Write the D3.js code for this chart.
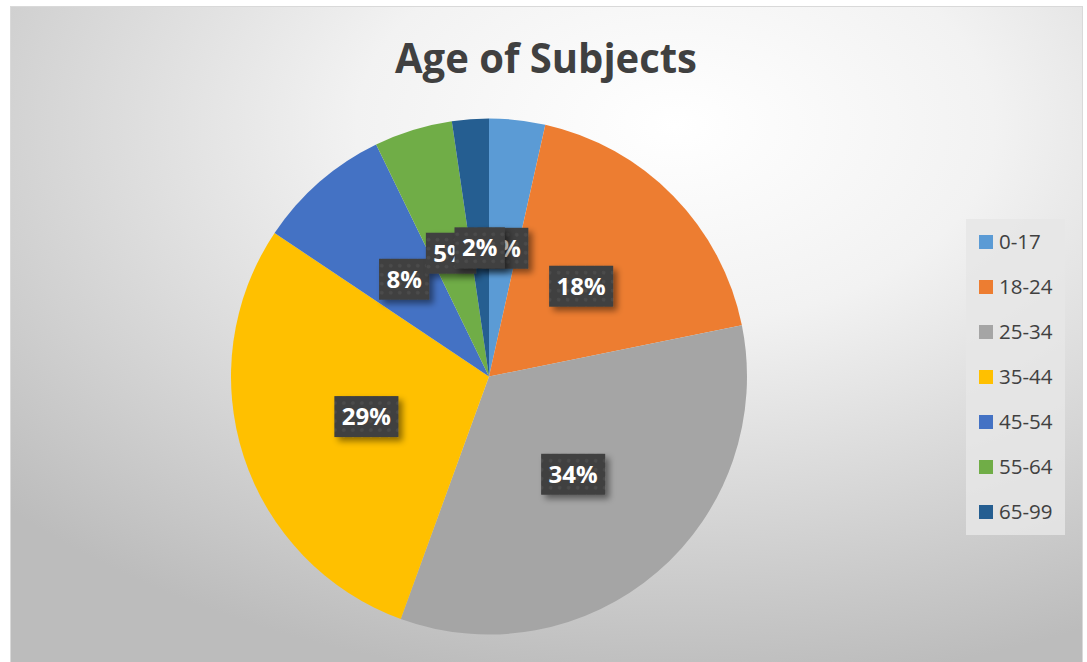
<!DOCTYPE html>
<html>
<head>
<meta charset="utf-8">
<script src="https://cdn.jsdelivr.net/npm/d3@7"></script>
<style>
  html, body { margin: 0; padding: 0; background: #ffffff; }
  svg { display: block; }
</style>
</head>
<body>
<svg width="1087" height="662"></svg>
<script>
// Données du graphique
const categories = ["0-17", "18-24", "25-34", "35-44", "45-54", "55-64", "65-99"];
const values = [3.5, 18.3, 33.7, 28.8, 8.4, 4.9, 2.3];
const colors = ["#5B9BD5", "#ED7D31", "#A5A5A5", "#FFC000", "#4472C4", "#70AD47", "#255E91"];
const title = "Age of Subjects";

const svg = d3.select("svg");
const fontFamily = "'Open Sans', 'Noto Sans', sans-serif";

const defs = svg.append("defs");

// Fond en dégradé radial
const grad = defs.append("radialGradient")
  .attr("id", "bg")
  .attr("cx", "62%").attr("cy", "18%").attr("r", "85%");
grad.append("stop").attr("offset", "0%").attr("stop-color", "#ffffff");
grad.append("stop").attr("offset", "35%").attr("stop-color", "#f2f2f2");
grad.append("stop").attr("offset", "100%").attr("stop-color", "#bcbcbc");

// Ombre des étiquettes
const shadow = defs.append("filter")
  .attr("id", "shadow")
  .attr("x", "-20%").attr("y", "-20%").attr("width", "150%").attr("height", "150%");
shadow.append("feDropShadow")
  .attr("dx", 4).attr("dy", 4)
  .attr("stdDeviation", 3)
  .attr("flood-color", "#000")
  .attr("flood-opacity", 0.45);

// Texture des étiquettes
const pat = defs.append("pattern")
  .attr("id", "dots")
  .attr("patternUnits", "userSpaceOnUse")
  .attr("width", 9).attr("height", 9);
pat.append("rect").attr("width", 9).attr("height", 9).attr("fill", "#3f3f3f");
pat.append("circle").attr("cx", 4.5).attr("cy", 4.5).attr("r", 2).attr("fill", "#4b4b4b");

// Zone du graphique
svg.append("rect")
  .attr("x", 10.5).attr("y", 6.5)
  .attr("width", 1072).attr("height", 662)
  .attr("fill", "url(#bg)")
  .attr("stroke", "#d9d9d9")
  .attr("stroke-width", 1);

// Titre
svg.append("text")
  .attr("x", 546)
  .attr("y", 73)
  .attr("text-anchor", "middle")
  .attr("font-family", fontFamily)
  .attr("font-weight", "bold")
  .attr("font-size", 42)
  .attr("fill", "#404040")
  .attr("textLength", 302)
  .attr("lengthAdjust", "spacingAndGlyphs")
  .text(title);

// Camembert
const cx = 489, cy = 376.5, R = 258;
const total = d3.sum(values);
const pct = d3.format(".0%");

const pie = d3.pie().sort(null).value(d => d.value);
const arcs = pie(categories.map((c, i) => ({ cat: c, value: values[i], color: colors[i] })));
const arc = d3.arc().innerRadius(0).outerRadius(R);

const g = svg.append("g").attr("transform", `translate(${cx},${cy})`);

g.selectAll("path")
  .data(arcs)
  .enter()
  .append("path")
  .attr("d", arc)
  .attr("fill", d => d.data.color);

// Étiquettes de données (elles se chevauchent comme dans l'original)
const labels = g.selectAll("g.label")
  .data(arcs)
  .enter()
  .append("g")
  .attr("class", "label")
  .attr("transform", d => `translate(${arc.centroid(d)})`);

labels.each(function (d) {
  const lg = d3.select(this);
  const rect = lg.append("rect")
    .attr("fill", "url(#dots)")
    .attr("filter", "url(#shadow)");
  const t = lg.append("text")
    .attr("text-anchor", "middle")
    .attr("dy", "0.36em")
    .attr("font-family", fontFamily)
    .attr("font-weight", "bold")
    .attr("font-size", 24)
    .attr("fill", "#ffffff")
    .text(pct(d.data.value / total));
  const w = t.node().getComputedTextLength() + 15;
  const h = 41;
  rect.attr("x", -w / 2).attr("y", -h / 2).attr("width", w).attr("height", h);
});

// Légende
const legend = svg.append("g");
legend.append("rect")
  .attr("x", 966).attr("y", 219)
  .attr("width", 99).attr("height", 316)
  .attr("fill", "#e6e6e6")
  .attr("fill-opacity", 0.85);

const ly = d3.scalePoint().domain(categories).range([242, 512]);

const items = legend.selectAll("g.item")
  .data(categories)
  .enter()
  .append("g")
  .attr("class", "item")
  .attr("transform", d => `translate(979,${ly(d)})`);

items.append("rect")
  .attr("x", 0).attr("y", -7)
  .attr("width", 14).attr("height", 14)
  .attr("fill", (d, i) => colors[i]);

items.append("text")
  .attr("x", 20)
  .attr("dy", "0.35em")
  .attr("font-family", fontFamily)
  .attr("font-size", 20.5)
  .attr("fill", "#404040")
  .text(d => d);
</script>
</body>
</html>
